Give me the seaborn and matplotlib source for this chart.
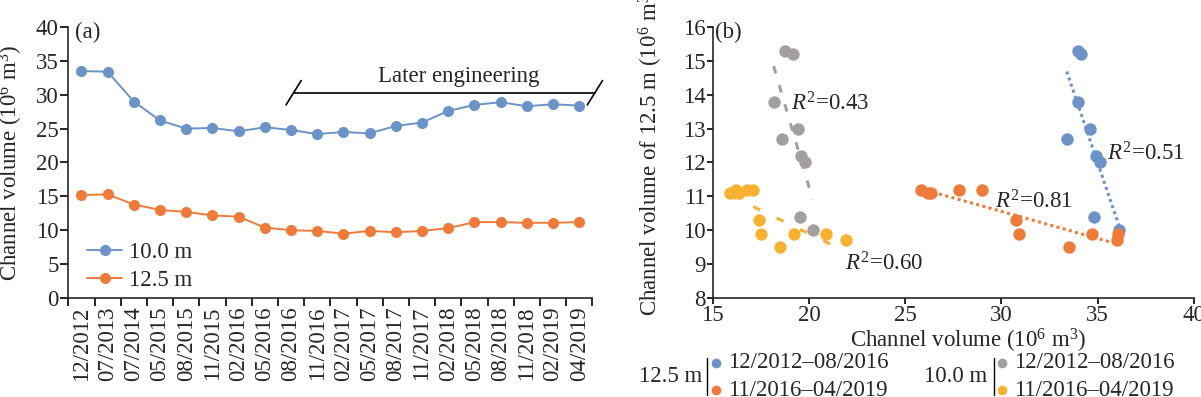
import matplotlib
matplotlib.use("Agg")
import matplotlib.pyplot as plt
from matplotlib.lines import Line2D
import numpy as np
import pandas as pd
import seaborn as sns

# ---- data -------------------------------------------------------------
dates = ["12/2012", "07/2013", "07/2014", "05/2015", "08/2015", "11/2015", "02/2016",
         "05/2016", "08/2016", "11/2016", "02/2017", "05/2017", "08/2017", "11/2017",
         "02/2018", "05/2018", "08/2018", "11/2018", "02/2019", "04/2019"]
vol_10m = [33.5, 33.4, 29.0, 26.2, 25.0, 25.1, 24.6, 25.2, 24.8, 24.2,
           24.5, 24.3, 25.4, 25.9, 27.6, 28.5, 28.9, 28.3, 28.6, 28.4]
vol_12m = [15.2, 15.3, 13.8, 13.0, 12.7, 12.2, 12.0, 10.4, 10.0, 9.9,
           9.5, 9.9, 9.7, 9.9, 10.3, 11.2, 11.2, 11.1, 11.1, 11.2]

# panel (b) scatter groups
blue_x = [33.97, 34.12, 34.0, 34.61, 33.39, 34.9, 35.1, 34.8, 36.1]
blue_y = [15.3, 15.2, 13.8, 13.0, 12.7, 12.2, 12.0, 10.4, 10.0]
orange_x = [25.8, 26.18, 26.34, 27.82, 28.98, 30.77, 30.89, 33.5, 34.7, 36.03, 36.0]
orange_y = [11.2, 11.1, 11.1, 11.2, 11.2, 10.3, 9.9, 9.5, 9.9, 9.9, 9.7]
gray_x = [18.77, 19.2, 18.17, 19.42, 18.62, 19.6, 19.8, 19.53, 20.2]
gray_y = [15.3, 15.2, 13.8, 13.0, 12.7, 12.2, 12.0, 10.4, 10.0]
yellow_x = [15.9, 16.23, 16.38, 16.81, 17.1, 17.4, 17.53, 18.52, 19.22, 20.91, 21.92]
yellow_y = [11.1, 11.2, 11.1, 11.2, 11.2, 10.3, 9.9, 9.5, 9.9, 9.9, 9.7]
r2_labels = ["0.51", "0.81", "0.43", "0.60"]

C_BLUE, C_ORANGE, C_GRAY, C_YELLOW = "#6b93c8", "#ee7b3a", "#a39f9f", "#f8b232"

sns.set_theme(style="ticks")
plt.rcParams["font.family"] = ["Liberation Serif", "DejaVu Serif"]
plt.rcParams["mathtext.fontset"] = "custom"
plt.rcParams["mathtext.rm"] = "Liberation Serif"
plt.rcParams["mathtext.it"] = "Liberation Serif:italic"
plt.rcParams["axes.linewidth"] = 1.2
plt.rcParams["xtick.major.width"] = 1.2
plt.rcParams["ytick.major.width"] = 1.2
plt.rcParams["xtick.minor.width"] = 1.2

FS = 16.5
fig = plt.figure(figsize=(12.01, 3.97), dpi=100)
W, H = 1201, 397
ax_a = fig.add_axes([68.3 / W, 1 - 298 / H, 524 / W, 271 / H])
ax_b = fig.add_axes([712.6 / W, 1 - 298 / H, 481.4 / W, 271 / H])

# ---- panel (a) ----------------------------------------------------------
df_a = pd.DataFrame({"idx": np.arange(len(dates)), "10.0 m": vol_10m, "12.5 m": vol_12m})
long_a = df_a.melt(id_vars="idx", var_name="series", value_name="vol")
sns.lineplot(data=long_a, x="idx", y="vol", hue="series", palette=[C_BLUE, C_ORANGE],
             marker="o", markersize=8, markeredgewidth=0, linewidth=1.4, ax=ax_a)
ax_a.set_xlim(-0.5, len(dates) - 0.5)
ax_a.set_ylim(0, 40)
ax_a.set_yticks(range(0, 41, 5))
ax_a.set_xticks(np.arange(len(dates)))
ax_a.set_xticklabels(dates, rotation=90, fontsize=FS)
ax_a.set_xticks(np.arange(len(dates) + 1) - 0.5, minor=True)
ax_a.tick_params(axis="x", which="major", length=0, pad=6)
ax_a.tick_params(axis="x", which="minor", length=6, direction="out", color="black")
ax_a.tick_params(axis="y", labelsize=FS, length=6, pad=1, color="black")
ax_a.set_xlabel("")
ax_a.set_ylabel("Channel volume (10$^6$ m$^3$)", fontsize=FS)
ax_a.yaxis.set_label_coords(-0.082, 0.5)
sns.despine(ax=ax_a)
ax_a.legend(title=None, frameon=False, fontsize=FS, loc="upper left",
            bbox_to_anchor=(76 / W, 1 - 231 / H), bbox_transform=fig.transFigure,
            borderpad=0, handlelength=1.5, handletextpad=0.3, labelspacing=0.3)
ax_a.text(-0.25, 39.2, "(a)", fontsize=FS, va="center", ha="left")

# "Later engineering" bracket
eng_start, eng_end, eng_y = 8.1, 19.6, 30.3
ax_a.plot([eng_start, eng_end], [eng_y, eng_y], color="black", lw=1.2, clip_on=False)
for xc in (eng_start, eng_end):
    ax_a.plot([xc - 0.29, xc + 0.29], [28.5, 32.1], color="black", lw=1.2, clip_on=False)
ax_a.text(14.4, 32.7, "Later engineering", fontsize=FS, ha="center", va="center")

# ---- panel (b) ----------------------------------------------------------
groups = [
    (blue_x, blue_y, C_BLUE, (0, (1, 1.1))),
    (orange_x, orange_y, C_ORANGE, (0, (1, 1.1))),
    (gray_x, gray_y, C_GRAY, (0, (2.5, 4))),
    (yellow_x, yellow_y, C_YELLOW, (0, (2.5, 6))),
]
for gx, gy, col, ls in groups:
    sns.scatterplot(x=gx, y=gy, color=col, s=80, linewidth=0, ax=ax_b, zorder=3)
    sns.regplot(x=gx, y=gy, scatter=False, ci=None, ax=ax_b,
                line_kws={"color": col, "linestyle": ls, "lw": 2.2})

r2_pos = [(35.49, 12.24), (29.65, 10.85), (19.05, 13.72), (21.87, 9.02)]
for (tx, ty), lab in zip(r2_pos, r2_labels):
    ax_b.text(tx, ty, "$R^2$=" + lab, fontsize=FS, ha="left", va="center")

ax_b.set_xlim(15, 40)
ax_b.set_ylim(8, 16)
ax_b.set_xticks(range(15, 41, 5))
ax_b.set_yticks(range(8, 17))
ax_b.tick_params(labelsize=FS, length=4, pad=1, color="black")
ax_b.set_xlabel("Channel volume (10$^6$ m$^3$)", fontsize=FS, labelpad=0)
ax_b.set_ylabel("Channel volume of 12.5 m (10$^6$ m$^3$)", fontsize=FS)
ax_b.xaxis.set_label_coords(0.53, -0.105)
ax_b.yaxis.set_label_coords(-0.098, 0.545)
sns.despine(ax=ax_b)
ax_b.text(15.15, 15.85, "(b)", fontsize=FS, va="center", ha="left")

# custom two-block legend under panel (b)
def legend_block(x_title, x_bar, x_dot, title, cols, labels):
    fig.text(x_title / W, 1 - 377 / H, title, fontsize=FS, ha="left", va="center")
    fig.add_artist(Line2D([x_bar / W, x_bar / W], [1 - 358 / H, 1 - 395 / H],
                          color="black", lw=1.0, transform=fig.transFigure))
    for yy, col, lab in zip((363, 390), cols, labels):
        fig.add_artist(Line2D([x_dot / W], [1 - yy / H], marker="o", markersize=7,
                              color=col, markeredgewidth=0, transform=fig.transFigure))
        fig.text((x_dot + 12) / W, 1 - yy / H, lab, fontsize=FS, ha="left", va="center")

periods = ["12/2012\u201308/2016", "11/2016\u201304/2019"]
legend_block(638.7, 707, 715.6, "12.5 m", (C_BLUE, C_ORANGE), periods)
legend_block(923.6, 994, 1001.6, "10.0 m", (C_GRAY, C_YELLOW), periods)

fig.savefig("out.png", dpi=100)
